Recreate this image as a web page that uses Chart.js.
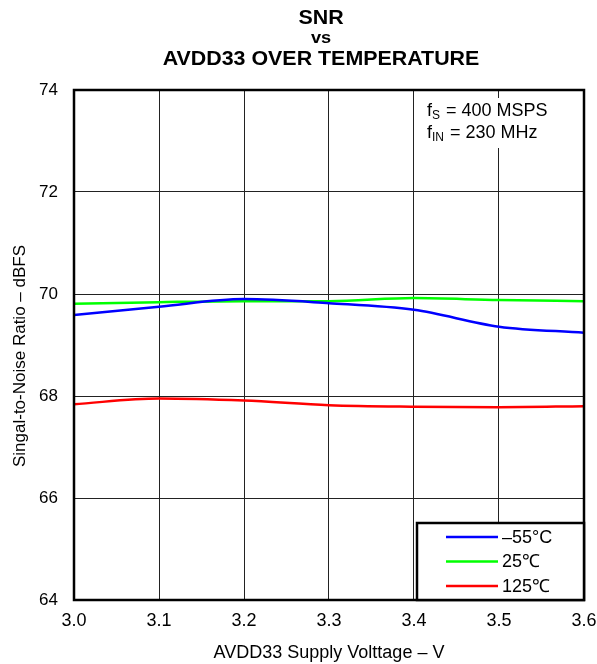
<!DOCTYPE html>
<html>
<head>
<meta charset="utf-8">
<script src="https://cdn.jsdelivr.net/npm/chart.js@4/dist/chart.umd.min.js"></script>
<style>
  body{margin:0;background:#fff;}
  #wrap{width:597px;height:664px;}
</style>
</head>
<body>
<div id="wrap"><canvas id="myChart" width="597" height="664"></canvas></div>
<script>
// datos
var voltajes = [3.0, 3.1, 3.2, 3.3, 3.4, 3.5, 3.6];
var snrMenos55 = [69.59, 69.75, 69.90, 69.82, 69.69, 69.36, 69.24];
var snr25 = [69.81, 69.84, 69.86, 69.86, 69.92, 69.88, 69.86];
var snr125 = [67.84, 67.95, 67.91, 67.82, 67.79, 67.78, 67.80];
var etiquetas = ['\u201355\u00b0C', '25\u2103', '125\u2103'];
var colores = ['#0000ff', '#00ff00', '#ff0000'];

var FUENTE = '"Liberation Sans", Arial, sans-serif';

function serie(datos, i){
  return {
    label: etiquetas[i],
    data: voltajes.map(function(v, k){ return {x: v, y: datos[k]}; }),
    borderColor: colores[i],
    backgroundColor: colores[i],
    borderWidth: 2.5,
    pointRadius: 0,
    fill: false,
    cubicInterpolationMode: 'monotone'
  };
}

// texto con subindice: f + sub + resto
function textoSub(ctx, x, y, base, sub, resto){
  ctx.font = '18px ' + FUENTE;
  ctx.fillText(base, x, y);
  x += ctx.measureText(base).width;
  ctx.font = '12px ' + FUENTE;
  ctx.fillText(sub, x, y + 5);
  x += ctx.measureText(sub).width;
  ctx.font = '18px ' + FUENTE;
  ctx.fillText(resto, x + 1, y);
}

// titulo algo ensanchado como en el original
function titulo(ctx, txt, x, y, size){
  ctx.save();
  ctx.translate(x, y);
  ctx.scale(1.07, 1);
  ctx.font = 'bold ' + size + 'px ' + FUENTE;
  ctx.fillText(txt, 0, 0);
  ctx.restore();
}

// dibuja titulos, marco, nota y leyenda
var extras = {
  id: 'extras',
  afterDraw: function(chart){
    var ctx = chart.ctx;
    var a = chart.chartArea;
    ctx.save();
    ctx.fillStyle = '#000';
    ctx.textAlign = 'center';
    ctx.textBaseline = 'middle';
    titulo(ctx, 'SNR', 321, 18, 20);
    titulo(ctx, 'vs', 321, 38, 17);
    titulo(ctx, 'AVDD33 OVER TEMPERATURE', 321, 59, 20);

    // titulo del eje y
    ctx.save();
    ctx.translate(20, 356);
    ctx.rotate(-Math.PI / 2);
    ctx.font = '17px ' + FUENTE;
    ctx.fillText('Singal-to-Noise Ratio \u2013 dBFS', 0, 0);
    ctx.restore();

    // marco
    ctx.strokeStyle = '#000';
    ctx.lineWidth = 2.5;
    ctx.strokeRect(a.left, a.top, a.right - a.left, a.bottom - a.top);

    // nota con fondo blanco
    ctx.fillStyle = '#fff';
    ctx.fillRect(424, 98, 132, 50);
    ctx.fillStyle = '#000';
    ctx.textAlign = 'left';
    textoSub(ctx, 427, 111, 'f', 'S', ' = 400 MSPS');
    textoSub(ctx, 427, 133, 'f', 'IN', ' = 230 MHz');

    // leyenda
    var lx = 417, ly = 523;
    ctx.fillStyle = '#fff';
    ctx.fillRect(lx, ly, a.right - lx, a.bottom - ly);
    ctx.lineWidth = 2.5;
    ctx.strokeRect(lx, ly, a.right - lx, a.bottom - ly);
    chart.data.datasets.forEach(function(ds, i){
      var y = 537 + i * 24.5;
      ctx.strokeStyle = ds.borderColor;
      ctx.lineWidth = 2.5;
      ctx.beginPath();
      ctx.moveTo(446, y);
      ctx.lineTo(498, y);
      ctx.stroke();
      ctx.fillStyle = '#000';
      ctx.font = '18px ' + FUENTE;
      ctx.fillText(ds.label, 502, y + 1);
    });
    ctx.restore();
  }
};

var ctx = document.getElementById('myChart');
var myChart = new Chart(ctx, {
  type: 'line',
  data: {
    datasets: [serie(snrMenos55, 0), serie(snr25, 1), serie(snr125, 2)]
  },
  options: {
    responsive: false,
    animation: false,
    layout: { padding: { top: 90, right: 13, left: 0, bottom: 0 } },
    plugins: { legend: { display: false }, tooltip: { enabled: false } },
    scales: {
      x: {
        type: 'linear',
        min: 3.0, max: 3.6,
        ticks: {
          stepSize: 0.1,
          color: '#000',
          font: { size: 18, family: FUENTE },
          padding: 10,
          maxRotation: 0,
          callback: function(v){ return v.toFixed(1); }
        },
        grid: { color: '#222', lineWidth: 1, drawTicks: false },
        border: { display: false },
        title: {
          display: true,
          text: 'AVDD33 Supply Volttage \u2013 V',
          color: '#000',
          font: { size: 18, family: FUENTE },
          padding: { top: 8, bottom: 0 }
        },
        afterFit: function(s){ s.height = 64; s.paddingLeft = 0; s.paddingRight = 0; }
      },
      y: {
        min: 64, max: 74,
        ticks: {
          stepSize: 2,
          color: '#000',
          font: { size: 17, family: FUENTE },
          padding: 16
        },
        grid: { color: '#222', lineWidth: 1, drawTicks: false },
        border: { display: false },
        title: { display: false },
        afterFit: function(s){ s.width = 74; s.paddingTop = 0; s.paddingBottom = 0; }
      }
    }
  },
  plugins: [extras]
});
</script>
</body>
</html>
